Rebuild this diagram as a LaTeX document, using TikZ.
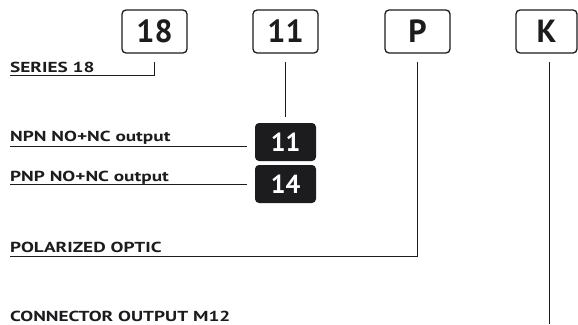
\documentclass[tikz,border=0pt]{standalone}
\usepackage{fontspec}
\setmainfont{PT Sans}
\newfontfamily\capfont{PT Sans}[FakeStretch=1.33]
\usetikzlibrary{positioning}

\definecolor{ink}{HTML}{1C1C1E}

\begin{document}
\begin{tikzpicture}[x=1pt, y=-1pt,
    codebox/.style={draw=ink, line width=1.3pt, rounded corners=4pt, minimum width=65pt,
        minimum height=43pt, inner sep=0pt, text=ink, font=\fontsize{32}{32}\selectfont\bfseries},
    optbox/.style={fill=ink, rounded corners=4pt, minimum width=61pt, minimum height=38pt,
        inner sep=0pt, text=white, font=\fontsize{26}{26}\selectfont\bfseries},
    caption/.style={anchor=base west, inner sep=0pt, text=ink, font=\capfont\fontsize{14.5}{14.5}\selectfont\bfseries},
    lead/.style={draw=ink, line width=0.9pt}]
    \useasboundingbox (0,0) rectangle (578,324);
    % code boxes
    \node[codebox] (series) at (154.5,31.5) {18};
    \node[codebox] (output) at (285.5,31.5) {11};
    \node[codebox] (optic) at (417.5,31.5) {P};
    \node[codebox, minimum width=61pt] (conn) at (546.5,31.5) {K};
    % output options
    \node[optbox] (npn) at (285.5,142) {11};
    \node[optbox] (pnp) at (285.5,184) {14};
    % captions
    \node[caption] (serieslbl) at (10,72) {SERIES 18};
    \node[caption] (npnlbl) at (10,141) {NPN NO+NC output};
    \node[caption] (pnplbl) at (10,181) {PNP NO+NC output};
    \node[caption] (opticlbl) at (10,252) {POLARIZED OPTIC};
    \node[caption] (connlbl) at (10,321) {CONNECTOR OUTPUT M12};
    \coordinate (seriesend) at (10,75);
    \coordinate (npnend) at (10,146);
    \coordinate (pnpend) at (10,184);
    \coordinate (opticend) at (10,256);
    \coordinate (connend) at (549,324);
    \coordinate (npnstop) at ([xshift=-8pt]npn.west);
    \coordinate (pnpstop) at ([xshift=-8pt]pnp.west);
    % leads
    \draw[lead] ([yshift=-8pt]series.south) |- (seriesend);
    \draw[lead] ([yshift=-8pt]output.south) -- ([yshift=6pt]npn.north);
    \draw[lead] (npnend) -- (npnend -| npnstop);
    \draw[lead] (pnpend) -- (pnpend -| pnpstop);
    \draw[lead] ([yshift=-8pt]optic.south) |- (opticend);
    \draw[lead] ([yshift=-8pt]conn.south -| connend) -- (connend);
\end{tikzpicture}
\end{document}
